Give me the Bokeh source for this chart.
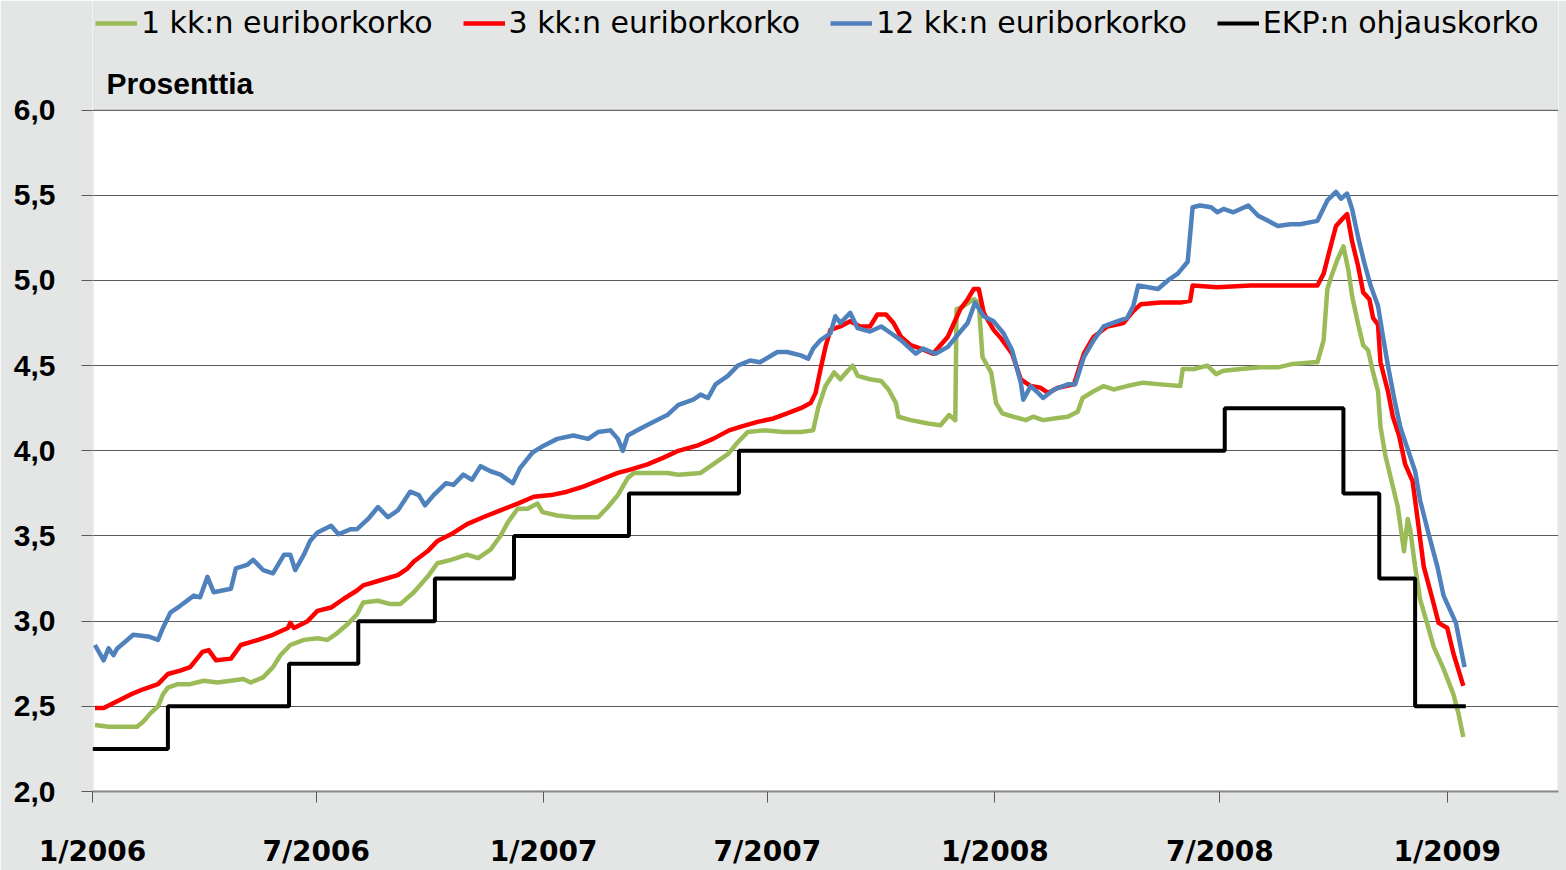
from bokeh.plotting import figure
from bokeh.models import (Legend, LegendItem, Label, BoxAnnotation, FixedTicker,
                          CustomJSTickFormatter, Range1d)
from bokeh.embed import file_html
from bokeh.resources import INLINE

# x values: days since 1 Jan 2006
days_1m = [2, 13, 25, 36, 41, 47, 53, 57, 61, 69, 79, 90, 101, 112, 122, 128, 138, 146, 152, 160,
           171, 182, 190, 198, 206, 214, 219, 231, 241, 249, 260, 271, 279, 290, 303, 312, 322, 330,
           336, 344, 352, 360, 364, 376, 389, 409, 417, 425, 433, 438, 451, 465, 474, 492, 502, 514,
           522, 530, 543, 559, 573, 583, 587, 593, 600, 605, 611, 615, 619, 629, 638, 644, 650, 652,
           662, 676, 686, 693, 698, 699, 705, 713, 717, 720, 727, 731, 736, 745, 755, 761, 769, 778,
           789, 797, 801, 810, 818, 826, 837, 850, 864, 880, 882, 891, 902, 909, 915, 929, 945, 959,
           971, 988, 991, 996, 999, 1003, 1007, 1012, 1016, 1019, 1024, 1028, 1032, 1036, 1040, 1042,
           1046, 1052, 1056, 1061, 1064, 1066, 1070, 1074, 1080, 1085, 1093, 1101, 1105, 1109]
rate_1m = [2.39, 2.38, 2.38, 2.38, 2.41, 2.46, 2.50, 2.57, 2.61, 2.63, 2.63, 2.65, 2.64, 2.65, 2.66, 2.64,
           2.67, 2.73, 2.80, 2.86, 2.89, 2.90, 2.89, 2.93, 2.98, 3.04, 3.11, 3.12, 3.10, 3.10, 3.17, 3.26,
           3.34, 3.36, 3.39, 3.37, 3.42, 3.50, 3.58, 3.66, 3.66, 3.69, 3.64, 3.62, 3.61, 3.61, 3.67, 3.74,
           3.84, 3.87, 3.87, 3.87, 3.86, 3.87, 3.92, 3.98, 4.05, 4.11, 4.12, 4.11, 4.11, 4.12, 4.25, 4.38,
           4.46, 4.42, 4.47, 4.50, 4.44, 4.42, 4.41, 4.36, 4.28, 4.20, 4.18, 4.16, 4.15, 4.21, 4.18, 4.83,
           4.85, 4.89, 4.87, 4.55, 4.46, 4.28, 4.22, 4.20, 4.18, 4.20, 4.18, 4.19, 4.20, 4.23, 4.31, 4.35,
           4.38, 4.36, 4.38, 4.40, 4.39, 4.38, 4.48, 4.48, 4.50, 4.45, 4.47, 4.48, 4.49, 4.49, 4.51, 4.52,
           4.52, 4.65, 4.95, 5.04, 5.12, 5.20, 5.06, 4.91, 4.74, 4.62, 4.59, 4.46, 4.35, 4.14, 3.97, 3.79,
           3.67, 3.41, 3.60, 3.54, 3.32, 3.13, 2.98, 2.85, 2.72, 2.57, 2.46, 2.32]

days_3m = [2, 9, 20, 31, 41, 53, 61, 71, 79, 89, 94, 100, 112, 120, 134, 146, 158, 160, 163, 174,
           182, 193, 203, 214, 219, 233, 247, 255, 260, 271, 279, 290, 303, 316, 330, 344, 357, 371,
           384, 397, 411, 425, 435, 449, 462, 474, 489, 502, 515, 524, 538, 551, 562, 573, 581, 585,
           589, 593, 597, 605, 613, 621, 629, 635, 642, 648, 654, 662, 670, 680, 692, 697, 702, 708,
           713, 717, 721, 729, 735, 744, 751, 759, 767, 773, 781, 794, 802, 810, 821, 834, 842, 848,
           864, 880, 888, 890, 910, 937, 964, 991, 996, 1002, 1006, 1011, 1015, 1019, 1024, 1028,
           1033, 1036, 1040, 1042, 1048, 1052, 1057, 1062, 1068, 1072, 1077, 1084, 1089, 1096, 1101,
           1109]
rate_3m = [2.49, 2.49, 2.53, 2.57, 2.60, 2.63, 2.69, 2.71, 2.73, 2.82, 2.83, 2.77, 2.78, 2.86, 2.89, 2.92,
           2.96, 2.99, 2.96, 3.00, 3.06, 3.08, 3.13, 3.18, 3.21, 3.24, 3.27, 3.31, 3.35, 3.41, 3.47, 3.51,
           3.57, 3.61, 3.65, 3.69, 3.73, 3.74, 3.76, 3.79, 3.83, 3.87, 3.89, 3.92, 3.96, 4.00, 4.03, 4.07,
           4.12, 4.14, 4.17, 4.19, 4.22, 4.25, 4.28, 4.34, 4.48, 4.61, 4.71, 4.73, 4.76, 4.73, 4.73, 4.80,
           4.80, 4.75, 4.67, 4.62, 4.60, 4.57, 4.67, 4.75, 4.83, 4.89, 4.95, 4.95, 4.81, 4.71, 4.66, 4.57,
           4.42, 4.38, 4.37, 4.34, 4.37, 4.39, 4.57, 4.67, 4.73, 4.75, 4.82, 4.86, 4.87, 4.87, 4.88, 4.97,
           4.96, 4.97, 4.97, 4.97, 5.04, 5.21, 5.32, 5.36, 5.39, 5.23, 5.08, 4.93, 4.89, 4.78, 4.74, 4.52,
           4.35, 4.20, 4.09, 3.92, 3.82, 3.60, 3.32, 3.13, 2.99, 2.96, 2.81, 2.62]

days_12m = [2, 9, 13, 17, 20, 25, 33, 45, 53, 57, 63, 71, 82, 87, 93, 98, 112, 116, 125, 130, 138,
            146, 155, 160, 164, 171, 176, 182, 193, 199, 209, 214, 223, 231, 239, 247, 257, 264, 269,
            276, 286, 292, 300, 307, 314, 322, 330, 340, 346, 356, 365, 376, 389, 401, 409, 419, 425,
            429, 433, 443, 454, 465, 474, 486, 492, 498, 504, 514, 522, 532, 540, 554, 562, 573, 579,
            583, 589, 597, 601, 605, 613, 619, 629, 638, 646, 654, 666, 672, 682, 692, 701, 708, 714,
            721, 729, 737, 744, 751, 753, 759, 765, 769, 778, 789, 795, 802, 810, 818, 829, 837, 842,
            846, 854, 862, 870, 878, 886, 890, 896, 905, 910, 915, 923, 935, 943, 951, 959, 969, 977,
            991, 999, 1006, 1010, 1015, 1019, 1024, 1029, 1034, 1040, 1044, 1048, 1053, 1058, 1064,
            1070, 1074, 1081, 1088, 1093, 1103, 1110]
rate_12m = [2.86, 2.77, 2.84, 2.80, 2.84, 2.87, 2.92, 2.91, 2.89, 2.96, 3.05, 3.09, 3.15, 3.14, 3.26,
            3.17, 3.19, 3.31, 3.33, 3.36, 3.30, 3.28, 3.39, 3.39, 3.30, 3.39, 3.47, 3.52, 3.56, 3.51,
            3.54, 3.54, 3.60, 3.67, 3.61, 3.65, 3.76, 3.74, 3.68, 3.74, 3.81, 3.80, 3.86, 3.83, 3.91,
            3.88, 3.86, 3.81, 3.90, 3.99, 4.03, 4.07, 4.09, 4.07, 4.11, 4.12, 4.07, 4.00, 4.09, 4.13,
            4.17, 4.21, 4.27, 4.30, 4.33, 4.31, 4.39, 4.44, 4.50, 4.53, 4.52, 4.58, 4.58, 4.56, 4.54,
            4.60, 4.65, 4.69, 4.79, 4.75, 4.81, 4.72, 4.70, 4.73, 4.69, 4.65, 4.57, 4.60, 4.57, 4.61,
            4.69, 4.75, 4.87, 4.79, 4.76, 4.69, 4.59, 4.40, 4.30, 4.38, 4.34, 4.31, 4.36, 4.39, 4.39,
            4.55, 4.65, 4.73, 4.76, 4.78, 4.85, 4.97, 4.96, 4.95, 5.00, 5.04, 5.11, 5.43, 5.44, 5.43,
            5.40, 5.42, 5.40, 5.44, 5.38, 5.35, 5.32, 5.33, 5.33, 5.35, 5.47, 5.52, 5.48, 5.51, 5.42,
            5.25, 5.10, 4.97, 4.85, 4.67, 4.50, 4.31, 4.14, 4.01, 3.88, 3.71, 3.51, 3.32, 3.15, 2.99,
            2.73]

ecb_days = [0, 61, 159, 215, 277, 341, 434, 523, 916, 1012, 1041, 1070, 1111]
ecb_rate = [2.25, 2.50, 2.75, 3.00, 3.25, 3.50, 3.75, 4.00, 4.25, 3.75, 3.25, 2.50, 2.50]

series_names = ["1 kk:n euriborkorko", "3 kk:n euriborkorko", "12 kk:n euriborkorko", "EKP:n ohjauskorko"]
tick_days = [0, 181, 365, 546, 730, 912, 1096]
tick_labels = ["1/2006", "7/2006", "1/2007", "7/2007", "1/2008", "7/2008", "1/2009"]
y_ticks = [2.0, 2.5, 3.0, 3.5, 4.0, 4.5, 5.0, 5.5, 6.0]
y_min, y_max = 2.0, 6.0

BG = "#e4e6e5"
FRAME_H = 870 - 69
y_top = y_min + (y_max - y_min) * FRAME_H / 690.0  # frame reaches the top of the picture

p = figure(width=1566, height=870, output_backend="svg", toolbar_location=None,
           x_range=Range1d(0, 1186), y_range=Range1d(y_min, y_top),
           min_border_left=92, min_border_right=8, min_border_top=0, min_border_bottom=69)
p.background_fill_color = "white"
p.border_fill_color = BG
p.outline_line_color = None

r1 = p.line(days_1m, rate_1m, line_color="#9bbb59", line_width=4.5, line_join="round")
r3 = p.line(days_3m, rate_3m, line_color="#ff0000", line_width=4.5, line_join="round")
r12 = p.line(days_12m, rate_12m, line_color="#4f81bd", line_width=4.5, line_join="round")
re = p.step(ecb_days, ecb_rate, mode="after", line_color="#000000", line_width=4)

# grey band above the plot area (legend area) and the plot-area border
p.add_layout(BoxAnnotation(bottom=y_max, fill_color=BG, fill_alpha=1.0, line_alpha=0))
p.add_layout(BoxAnnotation(bottom=y_min, top=y_max, fill_alpha=0.0,
                           line_color="#8a8a8a", line_width=2))

# axes
p.xgrid.visible = False
p.ygrid.ticker = FixedTicker(ticks=y_ticks)
p.ygrid.grid_line_color = "#5a5a5a"
p.ygrid.grid_line_width = 1

p.yaxis.ticker = FixedTicker(ticks=y_ticks)
p.yaxis.formatter = CustomJSTickFormatter(code="return tick.toFixed(1).replace('.', ',');")
p.yaxis.major_label_text_font = "Liberation Sans"
p.yaxis.major_label_text_font_style = "bold"
p.yaxis.major_label_text_font_size = "30px"
p.yaxis.major_label_text_color = "black"
p.yaxis.major_label_standoff = 26
p.yaxis.axis_line_color = None

p.xaxis.ticker = FixedTicker(ticks=tick_days)
p.xaxis.major_label_overrides = {d: lab for d, lab in zip(tick_days, tick_labels)}
p.xaxis.major_label_text_font = "DejaVu Sans"
p.xaxis.major_label_text_font_style = "bold"
p.xaxis.major_label_text_font_size = "28px"
p.xaxis.major_label_text_color = "black"
p.xaxis.major_label_standoff = 32
p.xaxis.axis_line_color = "#8a8a8a"
p.xaxis.axis_line_width = 2

for ax in (p.xaxis, p.yaxis):
    ax.major_tick_line_color = "#5a5a5a"
    ax.major_tick_line_width = 1
    ax.major_tick_in = 0
    ax.major_tick_out = 11
    ax.minor_tick_line_color = None

p.add_layout(Label(x=0, y=y_max, x_offset=14, y_offset=27, text="Prosenttia",
                   text_baseline="middle", text_align="left",
                   text_font="Liberation Sans", text_font_style="bold",
                   text_font_size="30px", text_color="black"))

legend = Legend(items=[LegendItem(label=series_names[0], renderers=[r1]),
                       LegendItem(label=series_names[1], renderers=[r3]),
                       LegendItem(label=series_names[2], renderers=[r12]),
                       LegendItem(label=series_names[3], renderers=[re])],
                orientation="horizontal", location=(3, FRAME_H - 50),
                label_text_font="DejaVu Sans", label_text_font_size="30px",
                label_text_color="black", glyph_width=42, glyph_height=30,
                label_standoff=4, spacing=30, padding=0, margin=0,
                border_line_alpha=0, background_fill_alpha=0)
p.add_layout(legend, "center")

open("out.html", "w").write(file_html(p, INLINE))
